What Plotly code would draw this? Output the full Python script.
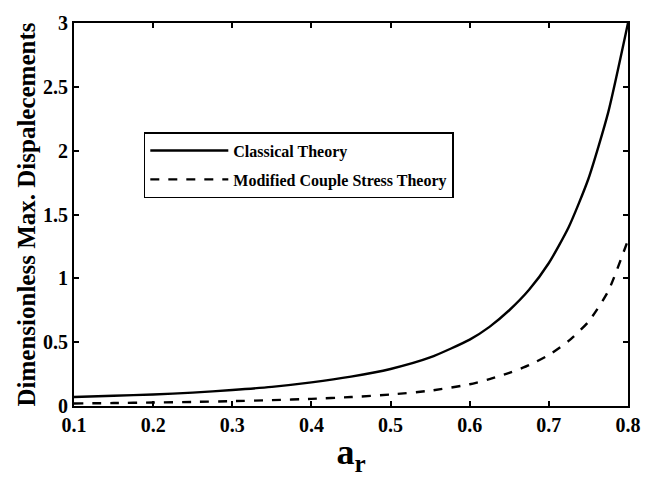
import plotly.graph_objects as go

ar = [0.1, 0.15, 0.2, 0.25, 0.3, 0.35, 0.4, 0.45, 0.5, 0.55, 0.6, 0.625, 0.65, 0.675,
      0.7, 0.725, 0.75, 0.775, 0.8]
classical = [0.07, 0.08, 0.09, 0.105, 0.125, 0.15, 0.185, 0.23, 0.29, 0.38, 0.52, 0.62,
             0.75, 0.91, 1.12, 1.40, 1.78, 2.30, 3.0]
mcst = [0.02, 0.023, 0.027, 0.032, 0.038, 0.046, 0.056, 0.07, 0.09, 0.12, 0.17, 0.21,
        0.26, 0.32, 0.40, 0.51, 0.66, 0.90, 1.30]

xticks = [0.1, 0.2, 0.3, 0.4, 0.5, 0.6, 0.7, 0.8]
yticks = [0, 0.5, 1, 1.5, 2, 2.5, 3]
ytick_text = ["0", "0.5", "1", "1.5", "2", "2.5", "3"]

serif = "Liberation Serif, Times New Roman, serif"

fig = go.Figure()
fig.add_trace(go.Scatter(x=ar, y=classical, mode="lines", name="<b>Classical Theory</b>",
                         legendgroup="a",
                         line=dict(color="black", width=2.4, shape="spline", smoothing=0.6)))
fig.add_trace(go.Scatter(x=ar, y=mcst, mode="lines", name="<b>Modified Couple Stress Theory</b>",
                         legendgroup="b",
                         line=dict(color="black", width=2.4, dash="dash", shape="spline", smoothing=0.6)))

axis_common = dict(showline=True, linecolor="black", linewidth=2, mirror="ticks",
                   ticks="inside", ticklen=5, tickwidth=1.5, tickcolor="black",
                   showgrid=False, zeroline=False,
                   tickfont=dict(family=serif, size=20, color="black", weight="bold"))

fig.update_layout(
    width=653, height=477,
    margin=dict(l=74, r=15, t=19, b=68),
    paper_bgcolor="white", plot_bgcolor="white",
    showlegend=True,
    legend=dict(x=0.126, y=0.715, xanchor="left", yanchor="top",
                bordercolor="black", borderwidth=1.5, bgcolor="white",
                font=dict(family=serif, size=16, color="black"),
                traceorder="grouped", tracegroupgap=5, itemwidth=78),
    xaxis=dict(range=[0.1, 0.8], tickvals=xticks, ticktext=[str(v) for v in xticks],
               title=dict(text="<b>a<sub>r</sub></b>", standoff=4,
                          font=dict(family=serif, size=36, color="black")),
               **axis_common),
    yaxis=dict(range=[0, 3], tickvals=yticks, ticktext=ytick_text,
               title=dict(text="<b>Dimensionless Max. Dispalecements</b>", standoff=0,
                          font=dict(family=serif, size=25, color="black")),
               **axis_common),
)

fig.write_html("out.html")
